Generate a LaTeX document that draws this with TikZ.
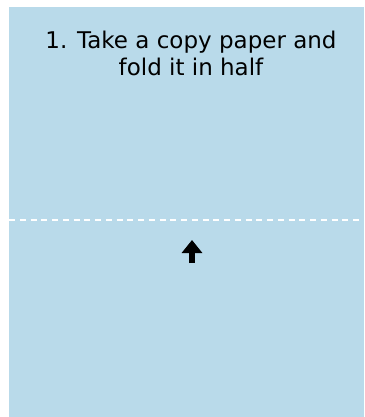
\documentclass[tikz,border=0pt]{standalone}
\usepackage{fontspec}
\setmainfont{DejaVu Sans}
\usetikzlibrary{arrows.meta}
\definecolor{paperblue}{RGB}{185,218,234}

\begin{document}
\begin{tikzpicture}[x=1pt, y=-1pt]
    \useasboundingbox (0,0) rectangle (364,417);
    \fill[paperblue] (9,7) rectangle (364,417);

    \node[anchor=north, inner sep=0pt, align=center, font=\fontsize{23}{27}\selectfont] (step) at (191,31) {1. Take a copy paper and\\fold it in half};

    \coordinate (foldL) at (9,220);
    \coordinate (foldR) at (364,220);
    \draw[white, line width=2pt, dash pattern=on 6pt off 4.75pt] (foldL) -- (foldR);

    \coordinate (tail) at (192,263);
    \coordinate (tip) at (192,240);
    \draw[line width=6.5pt, -{Triangle[width=20pt, length=13pt]}] (tail) -- (tip);
\end{tikzpicture}
\end{document}
